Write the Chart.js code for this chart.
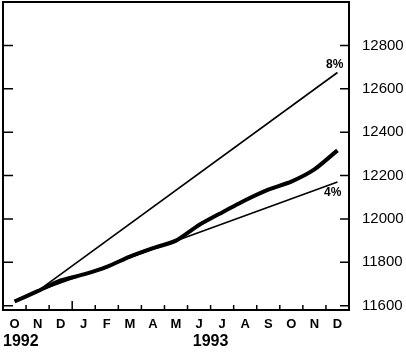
<!DOCTYPE html>
<html>
<head>
<meta charset="utf-8">
<script src="https://cdn.jsdelivr.net/npm/chart.js@4.4.0/dist/chart.umd.min.js"></script>
<style>
  body { margin: 0; background: #fff; }
  canvas { display: block; }
</style>
</head>
<body>
<canvas id="myChart" width="406" height="352"></canvas>
<script>
// month letters, Oct 1992 .. Dec 1993
var months = ['O', 'N', 'D', 'J', 'F', 'M', 'A', 'M', 'J', 'J', 'A', 'S', 'O', 'N', 'D'];
var years = [{ text: '1992', from: 0, to: 2 }, { text: '1993', from: 3, to: 14 }];

// actual series (thick line)
var actual = [11619, 11667, 11716, 11744, 11779, 11826, 11865, 11900, 11972, 12030, 12086, 12135, 12172, 12228, 12316];

// growth paths from Nov 1992, only end points
var path8 = [null, 11667, null, null, null, null, null, null, null, null, null, null, null, null, 12675];
var path4 = [null, 11667, null, null, null, null, null, null, null, null, null, null, null, null, 12170];

var yTicks = [11600, 11800, 12000, 12200, 12400, 12600, 12800];

var FONT = '"Liberation Sans", Arial, sans-serif';

// frame, inward ticks, year and percent labels
var decor = {
    id: 'decor',
    afterDraw: function (chart) {
        var c = chart.ctx, a = chart.chartArea;
        var xs = chart.scales.x, ys = chart.scales.y;
        c.save();
        c.strokeStyle = '#000';
        c.lineWidth = 2;
        c.strokeRect(a.left, a.top, a.right - a.left, a.bottom - a.top);

        c.lineWidth = 1.5;
        c.beginPath();
        yTicks.forEach(function (v) {
            var y = ys.getPixelForValue(v);
            c.moveTo(a.left, y); c.lineTo(a.left + 10, y);
            c.moveTo(a.right, y); c.lineTo(a.right - 9, y);
        });
        for (var i = 0; i < months.length - 1; i++) {
            var x = (xs.getPixelForValue(i) + xs.getPixelForValue(i + 1)) / 2;
            var len = (i === 2) ? 9 : 5;
            c.moveTo(x, a.bottom); c.lineTo(x, a.bottom - len);
        }
        c.stroke();

        c.fillStyle = '#000';
        c.font = 'bold 16px ' + FONT;
        c.textBaseline = 'middle';
        var half = (xs.getPixelForValue(1) - xs.getPixelForValue(0)) / 2;
        c.textAlign = 'left';
        c.fillText(years[0].text, xs.getPixelForValue(years[0].from) - half, 342);
        c.textAlign = 'center';
        c.fillText(years[1].text, (xs.getPixelForValue(years[1].from) + xs.getPixelForValue(years[1].to)) / 2, 342);

        c.font = 'bold 12px ' + FONT;
        var last = months.length - 1;
        var ex = xs.getPixelForValue(last);
        c.textAlign = 'right';
        c.textBaseline = 'bottom';
        c.fillText('8%', ex + 6, ys.getPixelForValue(path8[last]) - 2);
        c.textBaseline = 'top';
        c.fillText('4%', ex + 4, ys.getPixelForValue(path4[last]) + 5);
        c.restore();
    }
};

var ctx = document.getElementById('myChart').getContext('2d');
var myChart = new Chart(ctx, {
    type: 'line',
    data: {
        labels: months,
        datasets: [{
            data: actual,
            borderColor: '#000',
            borderWidth: 4,
            tension: 0.2,
            pointRadius: 0
        }, {
            data: path8,
            borderColor: '#000',
            borderWidth: 1.6,
            spanGaps: true,
            pointRadius: 0
        }, {
            data: path4,
            borderColor: '#000',
            borderWidth: 1.6,
            spanGaps: true,
            pointRadius: 0
        }]
    },
    options: {
        responsive: false,
        animation: false,
        layout: { padding: { left: 3, top: 2, right: 0, bottom: 0 } },
        plugins: { legend: { display: false }, tooltip: { enabled: false } },
        scales: {
            x: {
                offset: true,
                grid: { display: false, drawTicks: false },
                border: { display: false },
                ticks: {
                    color: '#000',
                    font: { family: FONT, size: 13, weight: 'bold' },
                    padding: 7,
                    maxRotation: 0,
                    autoSkip: false
                },
                afterFit: function (s) {
                    s.height = 42;
                    s.paddingLeft = 0; s.paddingRight = 0;
                }
            },
            y: {
                position: 'right',
                min: 11580,
                max: 13000,
                grid: { display: false, drawTicks: false },
                border: { display: false },
                afterBuildTicks: function (s) {
                    s.ticks = yTicks.map(function (v) { return { value: v }; });
                },
                ticks: {
                    color: '#000',
                    font: { family: FONT, size: 15 },
                    padding: 13,
                    callback: function (v) { return String(v); }
                },
                afterFit: function (s) {
                    s.width = 57;
                    s.paddingTop = 0; s.paddingBottom = 0;
                }
            }
        }
    },
    plugins: [decor]
});
</script>
</body>
</html>
